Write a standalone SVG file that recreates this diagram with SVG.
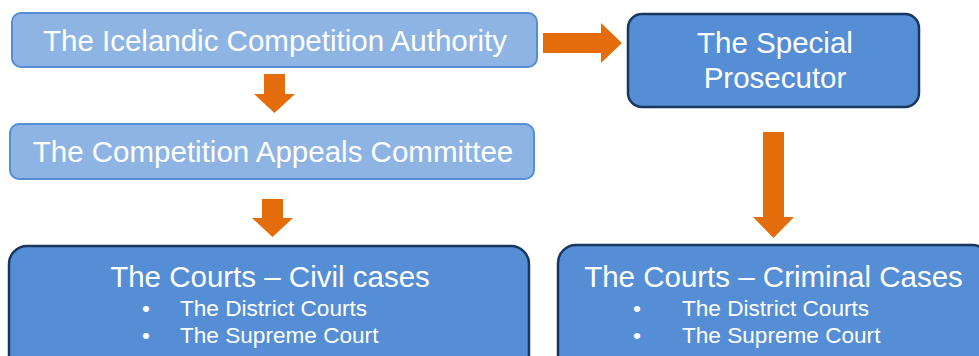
<svg xmlns="http://www.w3.org/2000/svg" width="979" height="356" viewBox="0 0 979 356">
<style>
.light{fill:#8EB4E3;stroke:#558ED5;stroke-width:2}
.dark{fill:#558ED5;stroke:#17375E;stroke-width:2.5}
.t{font-family:"Liberation Sans",Arial,sans-serif;fill:#FFFFFF}
.big{font-size:29.5px;text-anchor:middle}
.item{font-size:22.6px}
.arrow{fill:#E46C0A}
</style>
<rect width="979" height="356" fill="#FFFFFF"/>
<g id="connectors">
<polygon class="arrow" points="264,74 285,74 285,94 295,94 274.5,113 254,94 264,94"/>
<polygon class="arrow" points="262,199 283,199 283,218 293,218 272.5,237 252,218 262,218"/>
<polygon class="arrow" points="543,33 601,33 601,23 622,43 601,63 601,53 543,53"/>
<polygon class="arrow" points="763,132 784,132 784,217 794,217 773.5,238 753,217 763,217"/>
</g>
<g id="icelandic-competition-authority">
<rect class="light" x="12" y="13" width="525" height="54" rx="9"/>
<text class="t big" x="275" y="51">The Icelandic Competition Authority</text>
</g>
<g id="competition-appeals-committee">
<rect class="light" x="10" y="124" width="524" height="55" rx="9"/>
<text class="t big" x="273" y="162">The Competition Appeals Committee</text>
</g>
<g id="special-prosecutor">
<rect class="dark" x="628" y="14" width="291" height="93" rx="14"/>
<text class="t big" x="775" y="53">The Special</text>
<text class="t big" x="775" y="88">Prosecutor</text>
</g>
<g id="courts-civil">
<rect class="dark" x="9" y="246" width="520" height="130" rx="18"/>
<text class="t big" x="270" y="287">The Courts – Civil cases</text>
<text class="t item" x="146" y="316" text-anchor="middle">•</text>
<text class="t item" x="180" y="316">The District Courts</text>
<text class="t item" x="146" y="343" text-anchor="middle">•</text>
<text class="t item" x="180" y="343">The Supreme Court</text>
</g>
<g id="courts-criminal">
<rect class="dark" x="558" y="245" width="432" height="130" rx="18"/>
<text class="t big" x="773.5" y="287">The Courts – Criminal Cases</text>
<text class="t item" x="637" y="316" text-anchor="middle">•</text>
<text class="t item" x="682" y="316">The District Courts</text>
<text class="t item" x="637" y="343" text-anchor="middle">•</text>
<text class="t item" x="682" y="343">The Supreme Court</text>
</g>
</svg>
